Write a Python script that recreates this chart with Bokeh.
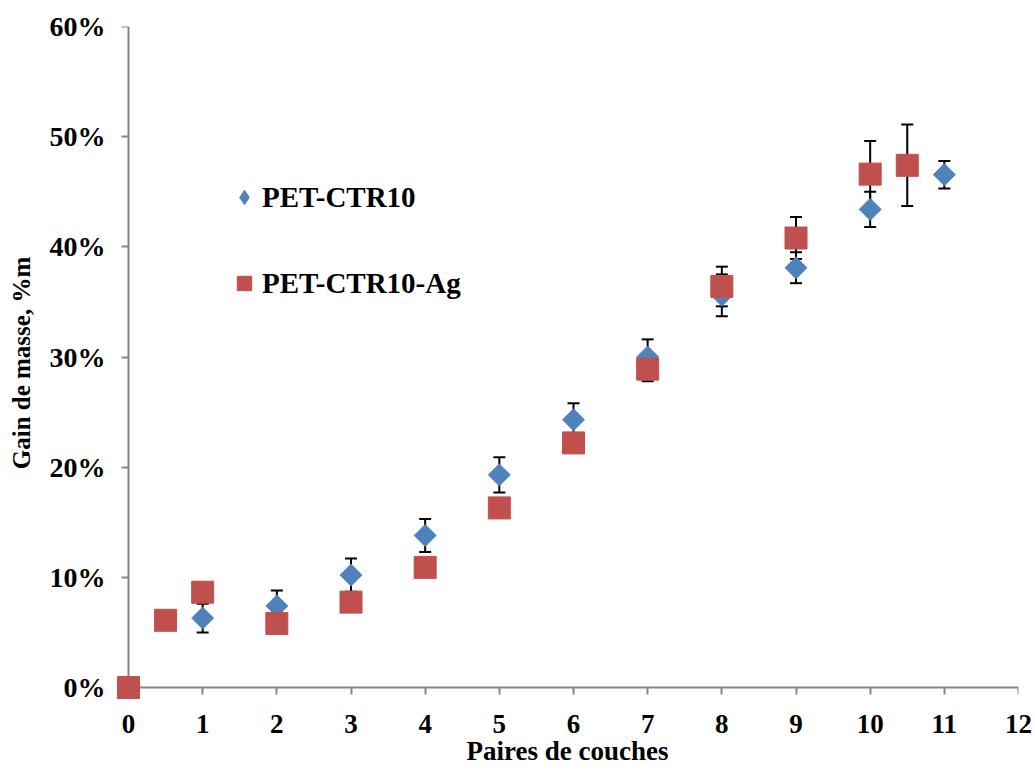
import math
from bokeh.plotting import figure
from bokeh.models import (ColumnDataSource, Whisker, TeeHead, Legend, LegendItem,
                          NumeralTickFormatter, FixedTicker, Range1d, LinearAxis)
from bokeh.embed import file_html
from bokeh.resources import INLINE

# ---- data (fractions of mass gain) ----
pairs_ctr = [0, 1, 2, 3, 4, 5, 6, 7, 8, 9, 10, 11]
gain_ctr = [0.0, 0.063, 0.074, 0.102, 0.138, 0.193, 0.243, 0.300, 0.356, 0.381, 0.434, 0.4655]
err_ctr = [0.0, 0.013, 0.014, 0.015, 0.015, 0.016, 0.015, 0.016, 0.019, 0.014, 0.016, 0.0125]

pairs_ag = [0, 0.5, 1, 2, 3, 4, 5, 6, 7, 8, 9, 10, 10.5]
gain_ag = [0.0, 0.061, 0.0865, 0.058, 0.0775, 0.109, 0.163, 0.222, 0.289, 0.364, 0.408, 0.466, 0.474]
err_ag = [0.0, 0.005, 0.005, 0.005, 0.005, 0.005, 0.005, 0.005, 0.011, 0.018, 0.019, 0.030, 0.037]

x_ticks = list(range(0, 13))
y_ticks = [0.0, 0.1, 0.2, 0.3, 0.4, 0.5, 0.6]

labels = ["PET-CTR10", "PET-CTR10-Ag"]
x_title = "Paires de couches"
y_title = "Gain de masse, %m"

BLUE = "#4F81BD"
RED = "#C0504D"
AXIS = "#868686"
FONT = "Liberation Serif"

# ---- layout (pixels) ----
W, H = 1035, 776
AX_LEFT, AX_TOP = 128, 26          # screen position of x=0 axis line / top of y axis
AX_W, AX_H = 890, 661              # axis lengths in px
PAD = 12                           # extra frame room so the corner marker is not clipped
X_MAX, Y_MAX = x_ticks[-1], y_ticks[-1]
x_pad = PAD * X_MAX / AX_W
y_pad = PAD * Y_MAX / AX_H

src_ctr = ColumnDataSource(dict(
    x=pairs_ctr, y=gain_ctr,
    upper=[g + e for g, e in zip(gain_ctr, err_ctr)],
    lower=[g - e for g, e in zip(gain_ctr, err_ctr)]))
src_ag = ColumnDataSource(dict(
    x=pairs_ag, y=gain_ag,
    upper=[g + e for g, e in zip(gain_ag, err_ag)],
    lower=[g - e for g, e in zip(gain_ag, err_ag)]))

p = figure(width=W, height=H, output_backend="svg", toolbar_location=None,
           x_range=Range1d(-x_pad, X_MAX), y_range=Range1d(-y_pad, Y_MAX),
           min_border_left=AX_LEFT - PAD, min_border_right=W - AX_LEFT - AX_W,
           min_border_top=AX_TOP, min_border_bottom=H - (AX_TOP + AX_H + PAD))
p.outline_line_color = None
p.xgrid.visible = False
p.ygrid.visible = False
p.background_fill_color = "white"
p.border_fill_color = "white"

for src in (src_ctr, src_ag):
    w = Whisker(base="x", upper="upper", lower="lower", source=src,
                line_color="black", line_width=2,
                upper_head=TeeHead(size=12, line_color="black", line_width=2),
                lower_head=TeeHead(size=12, line_color="black", line_width=2))
    p.add_layout(w)

r_ctr = p.scatter("x", "y", source=src_ctr, marker="square", size=15.5, angle=math.pi / 4,
                  fill_color=BLUE, line_color=BLUE)
r_ag = p.scatter("x", "y", source=src_ag, marker="square", size=22,
                 fill_color=RED, line_color=RED)
r_ag.level = "overlay"

# legend proxies (hidden in the plot, only used for the legend swatches)
leg_ctr = p.scatter("x", "y", source=src_ctr, marker="diamond", size=10,
                    fill_color=BLUE, line_color=BLUE, visible=False)
leg_ag = p.scatter("x", "y", source=src_ag, marker="square", size=10,
                   fill_color=RED, line_color=RED, visible=False)

# axis lines + ticks at data zero (inside the padded frame)
xa = p.xaxis[0]
ya = p.yaxis[0]
xa.fixed_location = 0
ya.fixed_location = 0
xa.bounds = (0, X_MAX)
ya.bounds = (0, Y_MAX)
xa.ticker = FixedTicker(ticks=x_ticks)
ya.ticker = FixedTicker(ticks=y_ticks)
for ax in (xa, ya):
    ax.axis_line_color = AXIS
    ax.axis_line_width = 2
    ax.major_tick_line_color = AXIS
    ax.major_tick_line_width = 2
    ax.major_tick_out = 7
    ax.major_tick_in = 0
    ax.minor_tick_line_color = None
    ax.major_label_text_color = None

# label-only axes in the side panels
xl = LinearAxis(ticker=FixedTicker(ticks=x_ticks), axis_label=x_title)
yl = LinearAxis(ticker=FixedTicker(ticks=y_ticks), axis_label=y_title,
                formatter=NumeralTickFormatter(format="0%"))
for ax in (xl, yl):
    ax.axis_line_color = None
    ax.major_tick_line_color = None
    ax.minor_tick_line_color = None
    ax.major_tick_out = 0
    ax.major_tick_in = 0
    ax.minor_tick_out = 0
    ax.minor_tick_in = 0
    ax.major_label_text_font = FONT
    ax.major_label_text_font_style = "bold"
    ax.major_label_text_color = "black"
    ax.axis_label_text_font = FONT
    ax.axis_label_text_font_style = "bold"
    ax.axis_label_text_color = "black"
xl.major_label_text_font_size = "27px"
yl.major_label_text_font_size = "28px"
xl.axis_label_text_font_size = "27px"
yl.axis_label_text_font_size = "25px"
xl.major_label_standoff = 15
yl.major_label_standoff = 11
xl.axis_label_standoff = 0
yl.axis_label_standoff = 12
p.add_layout(xl, "below")
p.add_layout(yl, "left")

legend = Legend(items=[LegendItem(label=labels[0], renderers=[leg_ctr]),
                       LegendItem(label=labels[1], renderers=[leg_ag])],
                location=(110, 397), orientation="vertical",
                label_text_font=FONT, label_text_font_style="bold",
                label_text_font_size="29px", label_text_color="black",
                border_line_color=None, background_fill_alpha=0,
                spacing=48, padding=0, margin=0,
                glyph_width=36, glyph_height=38, label_standoff=0)
p.add_layout(legend)

open("out.html", "w").write(file_html(p, INLINE))
